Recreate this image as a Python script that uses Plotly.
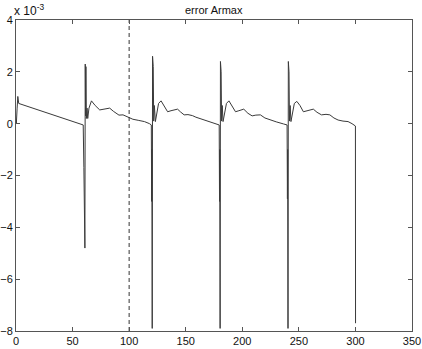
import plotly.graph_objects as go

# time axis (samples) and error values (in units of 1e-3)
T = [0, 0.3, 1.0, 1.6, 2.4, 59.4,
     60.0, 60.3, 60.6, 60.9, 61.2, 61.5, 61.8, 62.2, 62.8, 63.4, 64.5, 66.7, 70, 74, 78, 82.8, 86, 88.7, 91, 94.6, 98, 100, 103.3, 108, 113.5, 118, 119.6,
     119.9, 120.1, 120.4, 120.7, 121.0, 121.3, 121.7, 122.3, 123.2, 124.5, 126, 128.2, 131, 134, 137, 140, 142.8, 145.5, 148.6, 152, 156, 159, 161.8, 165, 167.7, 172, 178, 179.6,
     179.9, 180.1, 180.4, 180.7, 181.0, 181.3, 181.7, 182.3, 183.0, 184.5, 186, 188.2, 191, 194, 197, 201.3, 205, 208.7, 212, 216, 220, 224.8, 230, 236.4, 239.6,
     239.9, 240.1, 240.4, 240.7, 241.0, 241.3, 241.7, 242.3, 243, 244.5, 246, 248.2, 251, 254, 258, 262.8, 266, 270, 274, 277.4, 281, 284.7, 289, 293.5, 297, 300, 300.1]
ERR_E3 = [0.1, 0.0, 0.6, 1.05, 0.78, -0.05,
          -1.7, -4.1, -3.3, -4.8, 2.3, 0.3, 2.2, 0.2, 0.6, 0.2, 0.6, 0.88, 0.7, 0.53, 0.55, 0.6, 0.48, 0.4, 0.33, 0.34, 0.27, 0.25, 0.17, 0.13, 0.08, 0.0, -0.05,
          -3.0, -1.0, -7.9, 2.6, -0.2, 2.2, 0.1, 0.7, 0.08, 0.5, 0.78, 0.88, 0.7, 0.46, 0.5, 0.53, 0.56, 0.45, 0.34, 0.35, 0.31, 0.25, 0.21, 0.16, 0.12, 0.08, -0.01, -0.05,
          -3.0, -1.0, -7.9, 2.4, -0.2, 2.0, 0.1, 0.7, 0.08, 0.5, 0.78, 0.88, 0.7, 0.46, 0.5, 0.56, 0.4, 0.3, 0.33, 0.34, 0.22, 0.14, 0.07, -0.01, -0.05,
          -2.9, -1.0, -7.9, 2.4, -0.2, 2.0, 0.1, 0.7, 0.08, 0.5, 0.78, 0.86, 0.7, 0.46, 0.5, 0.56, 0.44, 0.34, 0.36, 0.34, 0.22, 0.14, 0.1, 0.08, 0.0, -0.09, -7.7]

DASH_X = 100
X_TICKS = [0, 50, 100, 150, 200, 250, 300, 350]
Y_TICKS = [-8, -6, -4, -2, 0, 2, 4]
X_RANGE = [0, 350]
Y_RANGE = [-8, 4]
TITLE = "error Armax"

FONT = "Liberation Sans, Arial, sans-serif"

fig = go.Figure()
fig.add_trace(go.Scatter(x=T, y=ERR_E3, mode="lines",
                         line=dict(color="#3a3a3a", width=1), hoverinfo="skip"))
fig.add_trace(go.Scatter(x=[DASH_X, DASH_X], y=Y_RANGE, mode="lines",
                         line=dict(color="#333333", width=1, dash="4px,3px"), hoverinfo="skip"))

axis_common = dict(showgrid=False, zeroline=False, showline=True, linecolor="#555555",
                   linewidth=1, mirror="ticks", ticks="inside", ticklen=4,
                   tickcolor="#555555", automargin=False, ticklabeloverflow="allow",
                   tickfont=dict(family=FONT, size=11, color="#111"))

fig.update_layout(
    width=422, height=349,
    margin=dict(l=16, r=10, t=20, b=18),
    paper_bgcolor="white", plot_bgcolor="white",
    showlegend=False,
    xaxis=dict(range=X_RANGE, tickvals=X_TICKS, ticklabelstandoff=0, **axis_common),
    yaxis=dict(range=Y_RANGE, tickvals=Y_TICKS, ticklabelstandoff=0, **axis_common),
    annotations=[
        dict(text=TITLE, x=0.5, y=1, xref="paper", yref="paper", xanchor="center",
             yanchor="bottom", yshift=2, showarrow=False,
             font=dict(family=FONT, size=11, color="#111")),
        dict(text="x 10<sup>-3</sup>", x=0, y=1, xref="paper", yref="paper",
             xanchor="left", yanchor="bottom", xshift=-4, yshift=0, showarrow=False,
             font=dict(family=FONT, size=12, color="#111")),
    ],
)

fig.write_html("out.html", config={"displayModeBar": False},
               post_script="document.body.style.margin='0';document.body.style.overflow='hidden';")
